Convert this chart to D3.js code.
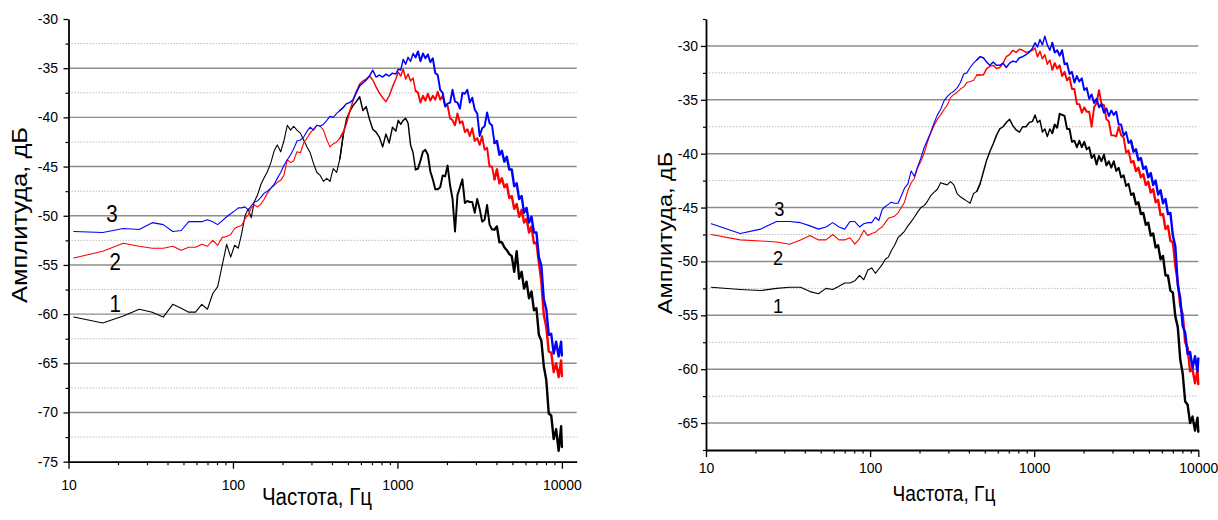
<!DOCTYPE html>
<html>
<head>
<meta charset="utf-8">
<script src="https://cdn.jsdelivr.net/npm/d3@7/dist/d3.min.js"></script>
<style>
  html, body { margin: 0; padding: 0; background: #fff; }
  svg { display: block; }
</style>
</head>
<body>
<svg id="chart" width="1218" height="520"></svg>
<script>
// Frequency grid (Hz), shared by every curve in both panels
const freqs = [
  10.77,16.15,21.53,26.92,32.3,37.68,43.07,48.45,53.83,59.22,64.6,69.98,75.37,80.75,86.13,91.52,96.9,102.3,107.7,113,118.4,123.8,129.2,134.6,
  141,148,155,162,170,178,186,195,204,214,224,234,245,257,269,282,295,309,324,339,355,372,389,407,427,447,468,490,513,537,562,589,617,646,676,708,741,776,813,851,891,933,977,
  1012,1047,1084,1122,1161,1202,1245,1288,1334,1380,1429,1479,1531,1585,1641,1698,1758,1820,1884,1950,2018,2089,2163,2239,2317,2399,2483,2570,2661,2754,
  2851,2951,3055,3162,3273,3388,3508,3631,3758,3890,4027,4169,4315,4467,4624,4786,4955,5129,5309,5495,5689,5888,6095,6310,6531,6761,6998,7244,7499,7762,
  8035,8318,8610,8913,9226,9550,9886,10000
];

// Left panel, amplitude (dB)
const leftCurve1 = [
  -60.3,-60.9,-60.2,-59.5,-59.8,-60.3,-59.0,-59.4,-59.8,-59.8,-59.0,-59.5,-57.9,-57.2,-55.0,-52.9,-54.2,-53.0,-53.3,-51.8,-50.0,-49.3,-50.2,-48.6,
  -47.9,-46.8,-46.1,-45.5,-44.6,-43.4,-42.8,-43.5,-42.4,-40.8,-41.3,-40.9,-41.3,-41.6,-42.3,-43.0,-43.6,-44.7,-45.6,-45.9,
  -46.5,-46.2,-46.5,-45.2,-45.6,-44.2,-41.8,-40.2,-39.4,-38.8,-38.4,-37.9,-39.3,-38.9,-40.2,-41.2,-41.5,-42.0,-43.0,-41.7,
  -42.6,-41.0,-41.4,
  -40.3,-40.7,-40.3,-40.1,-40.6,-42.8,-43.6,-45.3,-45.2,-44.4,-43.5,-43.3,-43.8,-45.5,-46.3,-47.3,-47.3,-47.1,-45.9,-46.0,
  -44.9,-46.9,-48.3,-51.6,-47.9,-47.1,-46.3,-48.7,-48.5,-48.6,-48.6,-49.7,-48.3,-49.3,-50.6,-50.4,-48.9,-50.9,-51.4,-51.4,
  -51.1,-52.7,-52.7,-53.2,-53.5,-53.9,-54.1,-55.7,-53.6,-56.4,-55.7,-57.4,-56.7,-58.4,-57.7,-59.6,-59.4,-62.1,-62.7,-65.3,
  -66.7,-70.1,-70.3,-72.7,-71.7,-73.9,-71.4,-73.5
];
const leftCurve2 = [
  -54.3,-53.6,-52.8,-53.1,-53.3,-53.3,-53.1,-53.5,-53.2,-53.2,-52.9,-53.1,-52.5,-53.0,-52.2,-52.1,-51.9,-51.3,-51.1,-51.0,-50.3,-49.9,-49.2,-48.9,
  -49.1,-48.8,-48.3,-47.7,-47.2,-46.9,-46.6,-46.4,-45.9,-44.3,-44.6,-44.4,-43.5,-43.6,-42.6,-42.1,-41.6,-41.2,-40.8,-40.9,
  -41.3,-42.3,-43.0,-42.7,-42.5,-42.1,-41.5,-40.6,-39.4,-38.3,-37.4,-36.6,-36.3,-36.1,-35.8,-36.2,-36.9,-37.5,-38.0,-38.4,
  -37.8,-36.9,-36.1,
  -35.4,-35.8,-35.1,-36.1,-35.6,-36.3,-36.0,-37.3,-37.5,-38.5,-37.8,-38.3,-37.6,-38.3,-37.8,-38.2,-37.4,-38.2,-37.8,-38.8,
  -38.8,-40.1,-40.3,-40.8,-39.6,-40.6,-40.4,-41.5,-41.2,-41.9,-41.1,-42.4,-42.1,-42.8,-41.9,-43.3,-43.1,-45.0,-45.0,-46.3,
  -45.3,-46.7,-46.2,-47.1,-46.8,-48.2,-48.0,-49.3,-48.8,-50.1,-49.4,-50.7,-50.3,-51.7,-51.1,-52.8,-52.7,-54.8,-56.7,-60.1,
  -61.3,-63.8,-63.9,-65.9,-65.0,-66.4,-64.7,-66.3
];
const leftCurve3 = [
  -51.6,-51.7,-51.3,-51.4,-50.7,-50.9,-51.6,-51.5,-50.6,-50.6,-50.6,-50.4,-50.6,-50.9,-50.5,-50.1,-49.8,-49.5,-49.2,-49.2,-49.1,-49.4,-49.0,-48.6,
  -48.5,-48.1,-47.7,-47.5,-47.2,-46.8,-46.2,-45.6,-44.9,-44.3,-43.8,-43.2,-42.4,-42.3,-42.0,-41.4,-41.0,-41.3,-40.8,-40.9,
  -40.7,-40.3,-39.9,-40.0,-39.6,-39.3,-39.0,-38.6,-38.5,-38.2,-37.5,-36.8,-36.5,-36.2,-35.8,-35.2,-35.9,-35.7,-35.9,-35.6,
  -35.8,-35.5,-35.6,
  -35.1,-35.2,-34.1,-34.6,-33.9,-34.3,-33.5,-33.9,-33.3,-34.3,-33.5,-34.0,-33.6,-34.4,-34.0,-35.5,-35.7,-37.2,-37.5,-38.9,
  -38.6,-38.5,-37.2,-38.4,-38.5,-39.1,-37.5,-37.6,-37.2,-38.5,-38.0,-39.2,-39.6,-41.9,-41.1,-40.9,-39.5,-40.6,-40.8,-42.6,
  -42.4,-43.8,-43.4,-44.5,-44.0,-45.3,-45.3,-47.0,-46.7,-48.3,-48.0,-49.7,-49.2,-50.7,-50.1,-51.7,-51.7,-54.2,-55.1,-58.5,
  -59.5,-62.1,-62.0,-64.0,-62.8,-64.3,-62.8,-64.2
];

// Right panel, amplitude (dB)
const rightCurve1 = [
  -52.4,-52.6,-52.7,-52.5,-52.4,-52.4,-52.8,-53.0,-52.5,-52.6,-52.3,-52.0,-52.0,-51.8,-51.3,-51.7,-50.8,-50.6,-51.1,-50.7,-50.3,-49.8,-49.6,-49.0,
  -48.5,-47.8,-47.5,-47.2,-46.7,-46.3,-45.9,-45.4,-45.0,-44.8,-44.4,-43.9,-43.6,-43.3,-42.7,-42.8,-42.9,-42.6,-42.9,-43.7,
  -44.0,-44.2,-44.4,-44.6,-43.7,-43.5,-42.8,-41.7,-40.6,-39.8,-39.1,-38.3,-37.7,-37.5,-37.1,-36.8,-37.4,-37.8,-38.0,-37.5,
  -37.5,-37.1,-37.0,
  -36.4,-37.1,-36.9,-38.0,-37.7,-38.4,-37.7,-38.1,-37.3,-37.6,-36.3,-36.4,-36.5,-37.7,-37.7,-38.9,-38.8,-39.4,-38.8,-39.4,
  -38.9,-39.6,-39.4,-40.4,-40.1,-41.0,-40.2,-40.7,-40.1,-41.1,-40.7,-41.3,-40.7,-41.6,-41.3,-42.2,-42.0,-43.0,-42.8,-43.8,
  -43.7,-44.7,-44.5,-45.6,-45.5,-46.6,-46.4,-47.6,-47.4,-48.7,-48.5,-49.8,-49.5,-51.3,-51.3,-52.7,-52.9,-55.1,-56.1,-59.1,
  -60.4,-63.0,-63.3,-65.0,-64.4,-65.7,-64.5,-65.8
];
const rightCurve2 = [
  -47.5,-48.0,-48.1,-48.2,-48.4,-48.0,-47.6,-48.0,-48.0,-47.5,-48.0,-48.0,-47.8,-48.4,-47.9,-47.1,-47.6,-47.4,-47.3,-47.0,-46.8,-46.4,-46.0,-45.9,
  -45.8,-45.5,-45.0,-44.5,-43.4,-42.7,-42.3,-41.3,-40.7,-39.9,-38.9,-38.1,-37.4,-36.8,-36.4,-35.9,-35.5,-34.8,-34.5,-34.3,
  -34.0,-33.8,-33.4,-33.3,-33.2,-32.7,-32.7,-32.7,-32.1,-31.9,-31.8,-32.1,-32.0,-31.6,-31.0,-30.8,-30.4,-30.6,-30.3,-30.4,
  -30.6,-30.5,-30.4,
  -30.2,-31.0,-30.5,-31.2,-30.8,-31.7,-31.3,-32.2,-31.6,-32.1,-31.8,-32.8,-32.4,-33.2,-32.9,-34.0,-34.0,-35.4,-35.4,-36.2,
  -35.7,-36.1,-36.1,-37.5,-35.7,-35.3,-34.1,-35.4,-35.5,-36.8,-37.0,-38.3,-38.3,-38.4,-37.5,-38.3,-38.5,-39.9,-39.7,-40.8,
  -40.7,-41.6,-41.3,-42.2,-41.9,-42.9,-42.6,-43.6,-43.3,-44.5,-44.3,-45.7,-45.6,-47.0,-46.7,-48.1,-48.2,-50.4,-51.9,-54.1,
  -54.9,-57.5,-58.0,-60.2,-60.0,-61.3,-60.1,-61.4
];
const rightCurve3 = [
  -46.5,-47.4,-47.0,-46.3,-46.3,-46.4,-46.7,-47.0,-46.8,-46.4,-46.8,-47.0,-46.3,-46.3,-46.8,-46.5,-46.4,-46.4,-45.9,-46.2,-45.2,-44.9,-44.7,-44.5,
  -44.6,-44.6,-43.9,-43.2,-42.8,-41.6,-42.1,-41.2,-40.4,-39.4,-38.7,-38.0,-37.2,-36.4,-35.9,-35.1,-34.7,-34.4,-34.2,-33.9,
  -33.4,-32.6,-32.5,-32.0,-31.6,-31.3,-31.0,-31.1,-31.5,-31.8,-31.5,-31.8,-31.8,-31.6,-32.0,-31.6,-31.4,-31.5,-31.1,-31.0,
  -30.8,-30.6,-30.2,
  -29.7,-30.1,-29.4,-29.9,-29.1,-29.9,-30.4,-29.7,-30.6,-30.4,-30.9,-30.4,-31.7,-31.6,-32.6,-32.4,-33.4,-32.8,-33.3,-33.0,
  -34.1,-33.9,-34.9,-34.5,-35.3,-34.9,-35.7,-35.4,-36.2,-35.8,-36.5,-36.0,-36.4,-36.1,-37.3,-37.3,-38.3,-38.0,-39.0,-38.8,
  -39.8,-39.6,-40.6,-40.4,-41.4,-41.2,-42.2,-41.8,-42.9,-42.5,-43.8,-43.4,-44.6,-44.2,-45.6,-45.5,-47.6,-48.6,-52.2,-53.4,
  -56.0,-56.6,-58.6,-58.4,-59.9,-58.8,-60.2,-59.0
];

// Axis ticks
const xTicksMajor = [10, 100, 1000, 10000];
const xTicksMinor = [20,30,40,50,60,70,80,90,200,300,400,500,600,700,800,900,2000,3000,4000,5000,6000,7000,8000,9000];
const yTicksLeft = [-75,-70,-65,-60,-55,-50,-45,-40,-35,-30];
const yMinorLeft = [-72.5,-67.5,-62.5,-57.5,-52.5,-47.5,-42.5,-37.5,-32.5];
const yTicksRight = [-65,-60,-55,-50,-45,-40,-35,-30];
const yMinorRight = [-67.5,-62.5,-57.5,-52.5,-47.5,-42.5,-37.5,-32.5,-27.5];

// Curve numbers and where they sit (frequency, dB)
const curveNames = ["1", "2", "3"];
const namePosLeft = [[19.2, -59.8], [19.2, -55.5], [18.4, -50.6]];
const namePosRight = [[27.5, -54.8], [27.5, -50.3], [28.0, -45.8]];

const xTitle = "Частота, Гц";
const yTitle = "Амплитуда, дБ";
const curveColors = ["#000000", "#ff0000", "#0000ff"];
const FONT = "'Liberation Sans', Arial, sans-serif";

// The dense spectral noise reads as a heavier trace at high frequency
const traceWidths = [[0, 450, 1.1], [450, 1300, 1.45], [1300, 4000, 1.95], [4000, 20000, 2.4]];

const svg = d3.select("#chart");

const panels = [
  {
    left: 68.5, right: 576.7, top: 19, bottom: 461.7,
    xDomain: [10, 12300], yDomain: [-75, -30],
    yTicks: yTicksLeft, yMinor: yMinorLeft,
    gridMajor: [-70,-65,-60,-55,-50,-45,-40,-35],
    gridMinor: [-72.5,-67.5,-62.5,-57.5,-52.5,-47.5,-42.5,-37.5,-32.5],
    yPad: 5.5, xPad: 11,
    series: [leftCurve1, leftCurve2, leftCurve3],
    names: namePosLeft, nameSize: 23,
    yTitle: { x: 27, y: 215, size: 25.5 },
    xTitle: { x: 317, y: 505, size: 23 }
  },
  {
    left: 706, right: 1198.3, top: 19, bottom: 450,
    xDomain: [10, 10000], yDomain: [-67.5, -27.5],
    yTicks: yTicksRight, yMinor: yMinorRight,
    gridMajor: [-65,-60,-55,-50,-45,-40,-35,-30],
    gridMinor: [-62.5,-57.5,-52.5,-47.5,-42.5,-37.5,-32.5],
    yPad: 3, xPad: 6,
    series: [rightCurve1, rightCurve2, rightCurve3],
    names: namePosRight, nameSize: 20.5,
    yTitle: { x: 672, y: 233, size: 23.5 },
    xTitle: { x: 944, y: 501, size: 21.5 }
  }
];

function styleAxis(g, width) {
  g.attr("font-family", FONT).attr("font-size", 14);
  g.select(".domain").attr("stroke", "#000").attr("stroke-width", width);
  g.selectAll(".tick line").attr("stroke", "#000").attr("stroke-width", 1.3);
  g.selectAll(".tick text").attr("fill", "#000");
}

panels.forEach(p => {
  const x = d3.scaleLog().domain(p.xDomain).range([p.left, p.right]);
  const y = d3.scaleLinear().domain(p.yDomain).range([p.bottom, p.top]);
  const g = svg.append("g");

  // horizontal grid
  g.append("g").selectAll("line").data(p.gridMinor).join("line")
    .attr("x1", p.left).attr("x2", p.right)
    .attr("y1", d => y(d)).attr("y2", d => y(d))
    .attr("stroke", "#bdbdbd").attr("stroke-width", 1)
    .attr("stroke-dasharray", "1.5,1.5");
  g.append("g").selectAll("line").data(p.gridMajor).join("line")
    .attr("x1", p.left).attr("x2", p.right)
    .attr("y1", d => y(d)).attr("y2", d => y(d))
    .attr("stroke", "#8c8c8c").attr("stroke-width", 1.4);

  // spectra, drawn band by band so the trace can thicken with frequency
  const line = d3.line().x(d => x(d[0])).y(d => y(d[1]));
  p.series.forEach((vals, k) => {
    const pts = vals.map((v, i) => [freqs[i], v]);
    traceWidths.forEach(([lo, hi, w]) => {
      let i0 = pts.findIndex(d => d[0] >= lo);
      let i1 = -1;
      pts.forEach((d, i) => { if (d[0] < hi) i1 = i; });
      if (i0 < 0 || i1 < i0) return;
      const seg = pts.slice(Math.max(0, i0 - 1), Math.min(pts.length, i1 + 2));
      g.append("path").attr("d", line(seg))
        .attr("fill", "none").attr("stroke", curveColors[k])
        .attr("stroke-width", w).attr("stroke-linejoin", "round")
        .attr("stroke-linecap", "round");
    });
  });

  // curve numbers
  g.append("g").selectAll("text").data(p.names).join("text")
    .attr("transform", d => `translate(${x(d[0])},${y(d[1])}) scale(0.89,1)`)
    .attr("text-anchor", "middle").attr("font-family", FONT)
    .attr("font-size", p.nameSize).attr("fill", "#000")
    .text((d, i) => curveNames[i]);

  // y axis
  const yAxis = g.append("g").attr("transform", `translate(${p.left},0)`)
    .call(d3.axisLeft(y).tickValues(p.yTicks).tickSize(5).tickSizeOuter(0)
      .tickPadding(p.yPad).tickFormat(d => String(d)));
  styleAxis(yAxis, 1.8);
  const yMinorAxis = g.append("g").attr("transform", `translate(${p.left},0)`)
    .call(d3.axisLeft(y).tickValues(p.yMinor).tickSize(3).tickFormat(""));
  yMinorAxis.select(".domain").remove();
  yMinorAxis.selectAll(".tick line").attr("stroke", "#000").attr("stroke-width", 1.2);

  // x axis
  const xAxis = g.append("g").attr("transform", `translate(0,${p.bottom})`)
    .call(d3.axisBottom(x).tickValues(xTicksMajor).tickSize(7).tickSizeOuter(0)
      .tickPadding(p.xPad).tickFormat(d => String(d)));
  styleAxis(xAxis, 1.8);
  const xMinorAxis = g.append("g").attr("transform", `translate(0,${p.bottom})`)
    .call(d3.axisBottom(x).tickValues(xTicksMinor).tickSize(3.5).tickFormat(""));
  xMinorAxis.select(".domain").remove();
  xMinorAxis.selectAll(".tick line").attr("stroke", "#000").attr("stroke-width", 1.2);

  // axis titles
  g.append("text")
    .attr("transform", `translate(${p.xTitle.x},${p.xTitle.y}) scale(0.89,1)`)
    .attr("text-anchor", "middle").attr("font-family", FONT)
    .attr("font-size", p.xTitle.size).attr("fill", "#000").text(xTitle);
  g.append("text")
    .attr("transform", `translate(${p.yTitle.x},${p.yTitle.y}) scale(0.89,1) rotate(-90)`)
    .attr("text-anchor", "middle").attr("font-family", FONT)
    .attr("font-size", p.yTitle.size).attr("fill", "#000").text(yTitle);
});
</script>
</body>
</html>
